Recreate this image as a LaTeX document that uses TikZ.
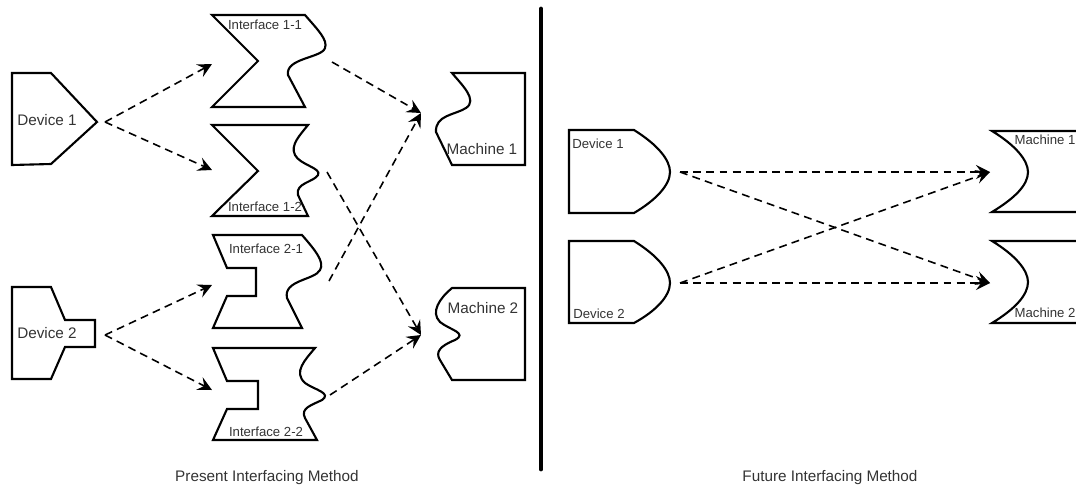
\documentclass[tikz,border=0pt]{standalone}
\usepackage{fontspec}
\setmainfont{Liberation Sans}
\usetikzlibrary{arrows.meta}
\tikzset{
  part/.style={draw, line width=1.2pt},
  flow/.style={-{Stealth[length=8pt, width=8pt, inset=3pt]}, line width=0.9pt,
               dash pattern=on 4.5pt off 3pt},
  biglabel/.style={font=\fontsize{8.7}{10}\selectfont, inner sep=0pt, text=black!80},
  smalllabel/.style={font=\fontsize{7.5}{9}\selectfont, inner sep=0pt, text=black!80},
  divider/.style={line width=2.8pt, line cap=round},
}

\begin{document}
\begin{tikzpicture}[x=0.02cm, y=-0.02cm]
  \useasboundingbox (0,0) rectangle (1076,491);

  % --- Present: devices ---
  \draw[part] (12,73) -- (51,73) -- (97,122) -- (51,164) -- (12,165) -- cycle;
  \node[biglabel] (dev1) at (47,120) {Device 1};
  \draw[part] (12,287) -- (51,287) -- (65,320) -- (95,320) -- (95,347) -- (65,347)
    -- (51,379) -- (12,379) -- cycle;
  \node[biglabel] (dev2) at (47,333) {Device 2};

  % --- Present: interfaces ---
  \draw[part] (305,107) -- (212,107) -- (258,61) -- (212,15) -- (305,15)
    .. controls (318,30) and (328,40) .. (325,48)
    .. controls (322,58) and (285,58) .. (288,75) -- cycle;
  \node[smalllabel] (if11) at (265,25) {Interface 1-1};
  \draw[part] (308,216) -- (212,216) -- (258,171) -- (212,125) -- (308,125)
    .. controls (300,135) and (290,145) .. (295,155)
    .. controls (300,165) and (322,168) .. (318,175)
    .. controls (314,182) and (295,183) .. (298,195) -- cycle;
  \node[smalllabel] (if12) at (265,207) {Interface 1-2};
  \draw[part] (302,328) -- (213,328) -- (227,296) -- (256,296) -- (256,268) -- (227,268)
    -- (213,235) -- (302,235)
    .. controls (315,250) and (325,262) .. (320,270)
    .. controls (315,280) and (283,280) .. (287,298) -- cycle;
  \node[smalllabel] (if21) at (266,249) {Interface 2-1};
  \draw[part] (317,440) -- (213,440) -- (227,409) -- (258,409) -- (258,381) -- (227,381)
    -- (213,348) -- (315,348)
    .. controls (305,360) and (293,372) .. (305,383)
    .. controls (315,390) and (332,393) .. (322,400)
    .. controls (312,405) and (300,408) .. (305,418) -- cycle;
  \node[smalllabel] (if22) at (266,432) {Interface 2-2};

  % --- Present: machines ---
  \draw[part] (452,165) -- (525,165) -- (525,73) -- (452,73)
    .. controls (462,85) and (478,100) .. (466,108)
    .. controls (455,115) and (435,115) .. (436,132) -- cycle;
  \node[biglabel] (mach1) at (482,149) {Machine 1};
  \draw[part] (452,380) -- (525,380) -- (525,288) -- (452,288)
    .. controls (440,298) and (430,312) .. (440,322)
    .. controls (450,330) and (468,333) .. (455,340)
    .. controls (440,346) and (435,352) .. (440,360) -- cycle;
  \node[biglabel] (mach2) at (483,308) {Machine 2};

  % --- Present: ports ---
  \coordinate (dev1out) at (105,122);
  \coordinate (dev2out) at (105,335);
  \coordinate (if11in) at (212,64);
  \coordinate (if12in) at (212,170);
  \coordinate (if21in) at (212,285);
  \coordinate (if22in) at (212,390);
  \coordinate (if11out) at (332,62);
  \coordinate (if12out) at (327,172);
  \coordinate (if21out) at (329,281);
  \coordinate (if22out) at (330,395);
  \coordinate (mach1in) at (421,113);
  \coordinate (mach2in) at (421,335);

  \draw[flow] (dev1out) -- (if11in);
  \draw[flow] (dev1out) -- (if12in);
  \draw[flow] (dev2out) -- (if21in);
  \draw[flow] (dev2out) -- (if22in);
  \draw[flow] (if11out) -- (mach1in);
  \draw[flow] (if21out) -- (mach1in);
  \draw[flow] (if12out) -- (mach2in);
  \draw[flow] (if22out) -- (mach2in);

  % --- divider ---
  \coordinate (divtop) at (541,9);
  \coordinate (divbot) at (541,469);
  \draw[divider] (divtop) -- (divbot);

  % --- Future: devices ---
  \draw[part] (569,130) -- (634,130) .. controls (658,145) and (670,160) .. (670,172)
    .. controls (670,185) and (656,200) .. (634,213) -- (569,213) -- cycle;
  \node[smalllabel] (fdev1) at (598,144) {Device 1};
  \draw[part] (569,241) -- (634,241) .. controls (658,256) and (670,271) .. (670,283)
    .. controls (670,296) and (656,311) .. (634,323) -- (569,323) -- cycle;
  \node[smalllabel] (fdev2) at (599,314) {Device 2};

  % --- Future: machines ---
  \draw[part] (1076,131) -- (992,131) .. controls (1015,145) and (1028,160) .. (1028,172)
    .. controls (1028,185) and (1015,198) .. (992,212) -- (1076,212);
  \node[smalllabel] (fmach1) at (1045,140) {Machine 1};
  \draw[part] (1076,241) -- (992,241) .. controls (1015,255) and (1028,270) .. (1028,282)
    .. controls (1028,295) and (1015,309) .. (992,323) -- (1076,323);
  \node[smalllabel] (fmach2) at (1045,313) {Machine 2};

  \coordinate (fdev1out) at (680,172);
  \coordinate (fdev2out) at (680,283);
  \coordinate (fmach1in) at (990,172);
  \coordinate (fmach2in) at (990,283);

  \draw[flow] (fdev1out) -- (fmach1in);
  \draw[flow] (fdev1out) -- (fmach2in);
  \draw[flow] (fdev2out) -- (fmach1in);
  \draw[flow] (fdev2out) -- (fmach2in);

  % --- captions ---
  \node[biglabel] (present) at (267,478) {Present Interfacing Method};
  \node[biglabel] (future) at (830,478) {Future Interfacing Method};
\end{tikzpicture}
\end{document}
